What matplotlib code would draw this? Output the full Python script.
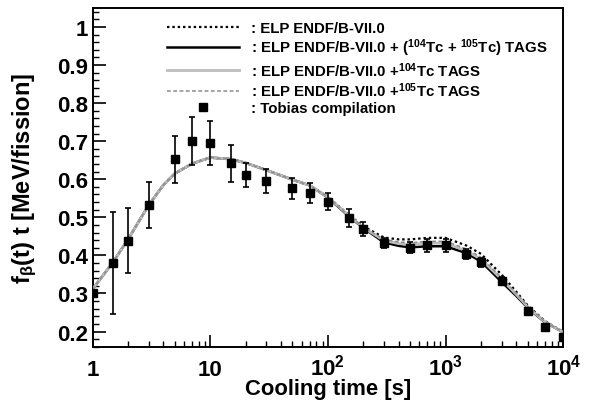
import matplotlib
matplotlib.use("Agg")
import matplotlib.pyplot as plt
from matplotlib.ticker import FixedLocator, NullFormatter, MultipleLocator, LogLocator
from matplotlib.lines import Line2D

plt.rcParams['font.family'] = ['Liberation Sans', 'DejaVu Sans']
plt.rcParams['font.weight'] = 'bold'
plt.rcParams['mathtext.fontset'] = 'custom'
plt.rcParams['mathtext.rm'] = 'Liberation Sans:bold'
plt.rcParams['mathtext.it'] = 'Liberation Sans:bold'
plt.rcParams['mathtext.bf'] = 'Liberation Sans:bold'
plt.rcParams['mathtext.sf'] = 'Liberation Sans:bold'

# ---- data: Tobias compilation ----
t_data = [1, 1.5, 2, 3, 5, 7, 10, 15, 20, 30, 50, 70, 100, 150, 200, 300,
          500, 700, 1000, 1500, 2000, 3000, 5000, 7000, 10000]
v_data = [0.300, 0.380, 0.439, 0.532, 0.652, 0.700, 0.695, 0.642, 0.611, 0.596,
          0.576, 0.564, 0.541, 0.498, 0.470, 0.432, 0.420, 0.426, 0.426, 0.404,
          0.382, 0.334, 0.253, 0.211, 0.185]
e_data = [0.0, 0.135, 0.085, 0.060, 0.062, 0.063, 0.058, 0.048, 0.031, 0.031,
          0.027, 0.027, 0.023, 0.023, 0.018, 0.013, 0.015, 0.017, 0.017, 0.013,
          0.012, 0.010, 0.006, 0.005, 0.004]

# ---- data: calculations ----
t_curve = [1, 1.5, 2, 3, 4, 5, 7, 10, 15, 20, 30, 50, 70, 100, 150, 200, 300,
           400, 500, 700, 1000, 1500, 2000, 3000, 4000, 5000, 7000, 10000]
elp = [0.311, 0.383, 0.442, 0.532, 0.585, 0.615, 0.641, 0.657, 0.653, 0.643,
       0.624, 0.599, 0.584, 0.554, 0.507, 0.476, 0.447, 0.442, 0.442, 0.446,
       0.446, 0.426, 0.404, 0.349, 0.304, 0.268, 0.227, 0.199]
elp_both = [0.311, 0.383, 0.442, 0.532, 0.585, 0.615, 0.641, 0.657, 0.653, 0.643,
            0.624, 0.599, 0.584, 0.552, 0.503, 0.472, 0.434, 0.425, 0.421, 0.424,
            0.424, 0.406, 0.384, 0.330, 0.293, 0.262, 0.224, 0.198]
elp_104 = [0.311, 0.383, 0.442, 0.532, 0.585, 0.615, 0.641, 0.657, 0.653, 0.643,
           0.624, 0.599, 0.584, 0.553, 0.505, 0.473, 0.439, 0.431, 0.428, 0.432,
           0.432, 0.412, 0.390, 0.337, 0.297, 0.264, 0.225, 0.198]
elp_105 = [0.311, 0.383, 0.442, 0.532, 0.585, 0.615, 0.641, 0.657, 0.653, 0.643,
           0.624, 0.599, 0.584, 0.553, 0.505, 0.474, 0.442, 0.435, 0.433, 0.437,
           0.437, 0.417, 0.395, 0.341, 0.300, 0.266, 0.226, 0.198]

labels = [': ELP ENDF/B-VII.0',
          ': ELP ENDF/B-VII.0 + ($^{104}$Tc + $^{105}$Tc) TAGS',
          ': ELP ENDF/B-VII.0 +$^{104}$Tc TAGS',
          ': ELP ENDF/B-VII.0 +$^{105}$Tc TAGS',
          ': Tobias compilation']

x_ticks = [1, 10, 100, 1000, 10000]
x_ticklabels = ['1', '10', '$10^{2}$', '$10^{3}$', '$10^{4}$']
y_ticks = [0.2, 0.3, 0.4, 0.5, 0.6, 0.7, 0.8, 0.9, 1.0]
y_ticklabels = ['0.2', '0.3', '0.4', '0.5', '0.6', '0.7', '0.8', '0.9', '1']

fig = plt.figure(figsize=(5.95, 4.02), dpi=100)
ax = fig.add_axes([0.1555, 0.135, 0.7912, 0.8426])
ax.set_xscale('log')

h1, = ax.plot(t_curve, elp, color='black', lw=1.6, ls=(0, (1.1, 1.3)), zorder=3)
h2, = ax.plot(t_curve, elp_both, color='black', lw=1.8, ls='-', zorder=3)
h3, = ax.plot(t_curve, elp_104, color='#bdbdbd', lw=2.0, ls='-', zorder=4)
h4, = ax.plot(t_curve, elp_105, color='#8c8c8c', lw=1.1, ls=(0, (2.5, 1.6)), zorder=5)
ax.errorbar(t_data, v_data, yerr=e_data, fmt='s', color='black', ms=5.2,
            elinewidth=1.2, capsize=2.2, capthick=1.2, zorder=6)
h5 = Line2D([], [], ls='none', marker='s', color='black', ms=5.2)

ax.set_xlim(1, 1e4)
ax.set_ylim(0.16, 1.05)

ax.xaxis.set_major_locator(FixedLocator(x_ticks))
ax.set_xticklabels(x_ticklabels)
ax.xaxis.set_minor_locator(LogLocator(base=10, subs=[2, 3, 4, 5, 6, 7, 8, 9]))
ax.xaxis.set_minor_formatter(NullFormatter())
ax.yaxis.set_major_locator(FixedLocator(y_ticks))
ax.set_yticklabels(y_ticklabels)
ax.yaxis.set_minor_locator(MultipleLocator(0.02))

ax.tick_params(which='both', direction='in', top=False, right=False)
ax.tick_params(which='major', length=9, width=1.2, labelsize=16)
ax.tick_params(which='minor', length=4.5, width=1.0)
ax.tick_params(axis='y', which='major', pad=3)
ax.tick_params(axis='x', which='major', pad=20)
for tk in ax.xaxis.get_major_ticks():
    tk.label1.set_verticalalignment('baseline')
for sp in ax.spines.values():
    sp.set_linewidth(1.4)

ax.set_xlabel('Cooling time [s]', fontsize=15.8, fontweight='bold')
ax.xaxis.set_label_coords(0.5, -0.093)
ax.set_ylabel(r'f$_{\beta}$(t) t [MeV/fission]', fontsize=17, fontweight='bold')
ax.yaxis.set_label_coords(-0.113, 0.5)

ax.legend([h1, h2, h3, h4, h5], labels, loc='upper left',
          bbox_to_anchor=(0.158, 0.962), frameon=False, borderpad=0,
          borderaxespad=0, handlelength=4.8, handletextpad=0.8,
          labelspacing=0.12,
          prop={'family': 'Liberation Sans', 'weight': 'bold', 'size': 10.8})

fig.savefig('out.png', dpi=100)
